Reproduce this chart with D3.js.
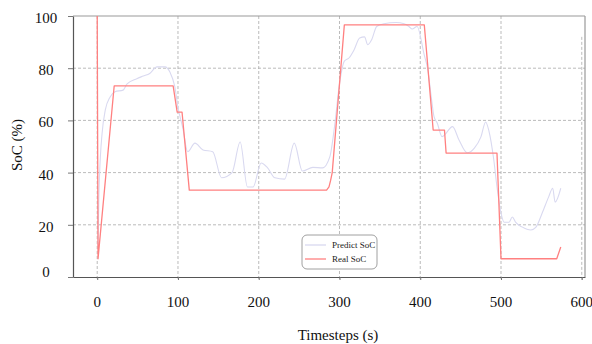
<!DOCTYPE html>
<html>
<head>
    <meta charset="utf-8">
    <style>
        body {
            margin: 0;
            background: white;
        }

        svg {
            font-family: 'Liberation Serif', 'Times New Roman', serif;
        }
    </style>
</head>
<body>
    <svg width="592" height="344"></svg>

<script src="https://d3js.org/d3.v7.min.js"></script>
<script>

    // Real SoC (red)
    let realT = [0, 1, 21, 94, 99, 105, 114, 284, 287, 289, 291, 306, 405, 416, 430, 432, 495, 500, 569, 574]
    let realV = [100, 7, 73.2, 73.2, 63.2, 63.2, 33.3, 33.3, 34.5, 37, 40, 96.6, 96.6, 56.3, 56.3, 47.5, 47.5, 7, 7, 11.5]

    // Predict SoC (light lavender)
    let predT = [1, 2, 3, 6, 10, 16, 22, 32, 37, 49, 57, 65, 74, 84, 90, 96, 100, 106, 112,
        121, 131, 143, 154, 167, 177, 186, 193, 203, 211, 220, 232, 244, 254, 267, 279, 288,
        294, 300, 306, 312, 318, 325, 331, 335, 340, 346, 355, 370, 380, 386, 390, 396, 405,
        409, 414, 417, 421, 427, 440, 448, 458, 467, 475, 481, 485, 491, 495, 500, 504, 510,
        514, 518, 526, 537, 543, 551, 559, 564, 567, 574]
    let predV = [12, 30, 40, 55, 64, 69, 71, 71.6, 74, 76, 77, 78, 80.5, 80.5, 78.5, 73, 65, 57, 48,
        51.3, 48.7, 48, 38, 40, 51.7, 34.5, 34.5, 43.7, 41.8, 38, 37.5, 51.3, 40.6, 42, 41.8, 46,
        58, 74, 82.7, 84, 87, 91.6, 92, 89, 91, 96, 97, 97.5, 97, 96, 95, 96, 85,
        80, 68, 61.5, 59, 53.8, 57.6, 52.5, 47.6, 49.4, 53.6, 59.4, 56, 45, 34.5, 24.5, 21, 21,
        23, 21, 19.2, 18, 19, 24.5, 30.7, 34, 28.7, 34]

    let xTicks = [0, 100, 200, 300, 400, 500, 600]
    let yTicks = [0, 20, 40, 60, 80, 100]
    let legendKeys = ["Predict SoC", "Real SoC"]

    let mLeft = 73, mRight = 585, mTop = 16, mBottom = 277

    let svg = d3.select("svg")

    let x = d3.scaleLinear().domain([-30, 604]).range([mLeft, mRight])
    let y = d3.scaleLinear().domain([0, 100]).range([mBottom, mTop])

    // dashed grid
    let grid = svg.append("g")
        .attr("stroke", "#aaa")
        .attr("stroke-width", 0.8)
        .attr("stroke-dasharray", "3,2")

    grid.selectAll(".vgrid")
        .data(xTicks)
        .join("line")
        .attr("x1", d => x(d))
        .attr("x2", d => x(d))
        .attr("y1", d => d == 600 ? y(92) : mTop)
        .attr("y2", mBottom + 3)

    grid.selectAll(".hgrid")
        .data(yTicks.filter(d => d > 0 && d < 100))
        .join("line")
        .attr("x1", mLeft)
        .attr("x2", mRight)
        .attr("y1", d => y(d))
        .attr("y2", d => y(d))

    // frame: top & right light, left & bottom dark
    svg.append("line").attr("x1", mLeft).attr("x2", mRight).attr("y1", mTop).attr("y2", mTop)
        .attr("stroke", "#999").attr("stroke-width", 1)
    svg.append("line").attr("x1", mRight).attr("x2", mRight).attr("y1", mTop).attr("y2", mBottom)
        .attr("stroke", "#999").attr("stroke-width", 1.2)

    // axes
    let yAxis = svg.append("g")
        .attr("transform", "translate(" + mLeft + ",0)")
        .call(d3.axisLeft(y).tickValues(yTicks).tickSizeInner(5).tickSizeOuter(0).tickFormat(""))
    yAxis.select(".domain").attr("stroke", "#555").attr("stroke-width", 1.2)
    yAxis.selectAll(".tick line").attr("stroke", "#777")

    let xAxis = svg.append("g")
        .attr("transform", "translate(0," + mBottom + ")")
        .call(d3.axisBottom(x).tickValues(xTicks).tickSizeInner(3).tickSizeOuter(0).tickFormat(""))
    xAxis.select(".domain").attr("stroke", "#555").attr("stroke-width", 1.2)
    xAxis.selectAll(".tick line").attr("stroke", "#777")

    // tick labels
    svg.selectAll(".ylab")
        .data(yTicks)
        .join("text")
        .attr("x", 46)
        .attr("y", d => d == 0 ? y(d) - 5 : y(d) + 2)
        .attr("text-anchor", "middle")
        .attr("dominant-baseline", "central")
        .attr("font-size", 15)
        .attr("fill", "#111")
        .text(d => d)

    svg.selectAll(".xlab")
        .data(xTicks)
        .join("text")
        .attr("x", d => x(d))
        .attr("y", 307)
        .attr("text-anchor", "middle")
        .attr("font-size", 15)
        .attr("fill", "#111")
        .text(d => d)

    // axis titles
    svg.append("text")
        .attr("x", 338)
        .attr("y", 340)
        .attr("text-anchor", "middle")
        .attr("font-size", 15)
        .attr("fill", "#111")
        .text("Timesteps (s)")

    svg.append("text")
        .attr("transform", "translate(22,145) rotate(-90)")
        .attr("text-anchor", "middle")
        .attr("font-size", 15)
        .attr("fill", "#111")
        .text("SoC (%)")

    // lines
    let predLine = d3.line()
        .x((d, i) => x(predT[i]))
        .y(d => y(d))
        .curve(d3.curveMonotoneX)

    let realLine = d3.line()
        .x((d, i) => x(realT[i]))
        .y(d => y(d))

    svg.append("path")
        .datum(predV)
        .attr("fill", "none")
        .attr("stroke", "#d9d9f0")
        .attr("stroke-width", 1.1)
        .attr("d", predLine)

    svg.append("path")
        .datum(realV)
        .attr("fill", "none")
        .attr("stroke", "#ff8080")
        .attr("stroke-width", 1.3)
        .attr("stroke-linejoin", "round")
        .attr("d", realLine)

    // legend
    let colors = ["#d9d9f0", "#ff8080"]
    let legend = svg.append("g").attr("transform", "translate(302,235)")

    legend.append("rect")
        .attr("width", 75)
        .attr("height", 34)
        .attr("rx", 5)
        .attr("fill", "white")
        .attr("stroke", "#888")
        .attr("stroke-width", 0.8)

    legend.selectAll(".lline")
        .data(legendKeys)
        .join("line")
        .attr("x1", 3)
        .attr("x2", 24)
        .attr("y1", (d, i) => 10 + i * 14)
        .attr("y2", (d, i) => 10 + i * 14)
        .attr("stroke", (d, i) => colors[i])
        .attr("stroke-width", 1.3)

    legend.selectAll(".ltext")
        .data(legendKeys)
        .join("text")
        .attr("x", 30)
        .attr("y", (d, i) => 10 + i * 14)
        .attr("dominant-baseline", "central")
        .attr("font-size", 9)
        .attr("fill", "#222")
        .text(d => d)

</script>
</body>
</html>
